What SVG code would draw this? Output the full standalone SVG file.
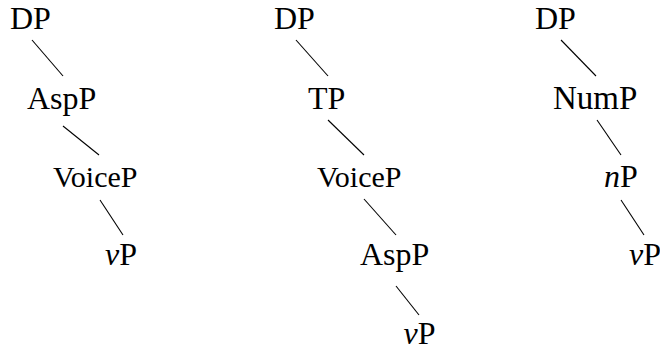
<svg xmlns="http://www.w3.org/2000/svg" width="660" height="353" viewBox="0 0 660 353">
<rect width="660" height="353" fill="#fff"/>
<g id="edges" stroke="#000" stroke-width="1.1">
<line x1="32" y1="40" x2="63" y2="76"/>
<line x1="63" y1="126" x2="99" y2="155"/>
<line x1="100" y1="200" x2="123" y2="235"/>
<line x1="296" y1="40" x2="328" y2="76"/>
<line x1="328" y1="120" x2="364" y2="155"/>
<line x1="364" y1="199" x2="396" y2="235"/>
<line x1="396" y1="286" x2="419" y2="315"/>
<line x1="561" y1="40" x2="596" y2="76"/>
<line x1="597" y1="120" x2="621" y2="155"/>
<line x1="621" y1="200" x2="644" y2="235"/>
</g>
<g id="t1-dp"><text x="10" y="29" font-size="32" font-family="Times New Roman" style="font-family:'Liberation Serif','Times New Roman',serif">DP</text></g>
<g id="t1-asp"><text x="27" y="109" font-size="32" font-family="Times New Roman" style="font-family:'Liberation Serif','Times New Roman',serif">AspP</text></g>
<g id="t1-voice"><text x="53" y="187" font-size="30" font-family="Times New Roman" style="font-family:'Liberation Serif','Times New Roman',serif">VoiceP</text></g>
<g id="t1-vp"><text x="105" y="265" font-size="32" font-family="Times New Roman" style="font-family:'Liberation Serif','Times New Roman',serif"><tspan font-style="italic">v</tspan>P</text></g>
<g id="t2-dp"><text x="274" y="29" font-size="32" font-family="Times New Roman" style="font-family:'Liberation Serif','Times New Roman',serif">DP</text></g>
<g id="t2-tp"><text x="308" y="109" font-size="32" font-family="Times New Roman" style="font-family:'Liberation Serif','Times New Roman',serif">TP</text></g>
<g id="t2-voice"><text x="317" y="187" font-size="30" font-family="Times New Roman" style="font-family:'Liberation Serif','Times New Roman',serif">VoiceP</text></g>
<g id="t2-asp"><text x="360" y="265" font-size="32" font-family="Times New Roman" style="font-family:'Liberation Serif','Times New Roman',serif">AspP</text></g>
<g id="t2-vp"><text x="403.5" y="344" font-size="32" font-family="Times New Roman" style="font-family:'Liberation Serif','Times New Roman',serif"><tspan font-style="italic">v</tspan>P</text></g>
<g id="t3-dp"><text x="535" y="29" font-size="32" font-family="Times New Roman" style="font-family:'Liberation Serif','Times New Roman',serif">DP</text></g>
<g id="t3-num"><text x="553" y="109" font-size="33" font-family="Times New Roman" style="font-family:'Liberation Serif','Times New Roman',serif">NumP</text></g>
<g id="t3-np"><text x="604" y="187" font-size="32" font-family="Times New Roman" style="font-family:'Liberation Serif','Times New Roman',serif"><tspan font-style="italic">n</tspan>P</text></g>
<g id="t3-vp"><text x="629" y="265" font-size="32" font-family="Times New Roman" style="font-family:'Liberation Serif','Times New Roman',serif"><tspan font-style="italic">v</tspan>P</text></g>
</svg>
